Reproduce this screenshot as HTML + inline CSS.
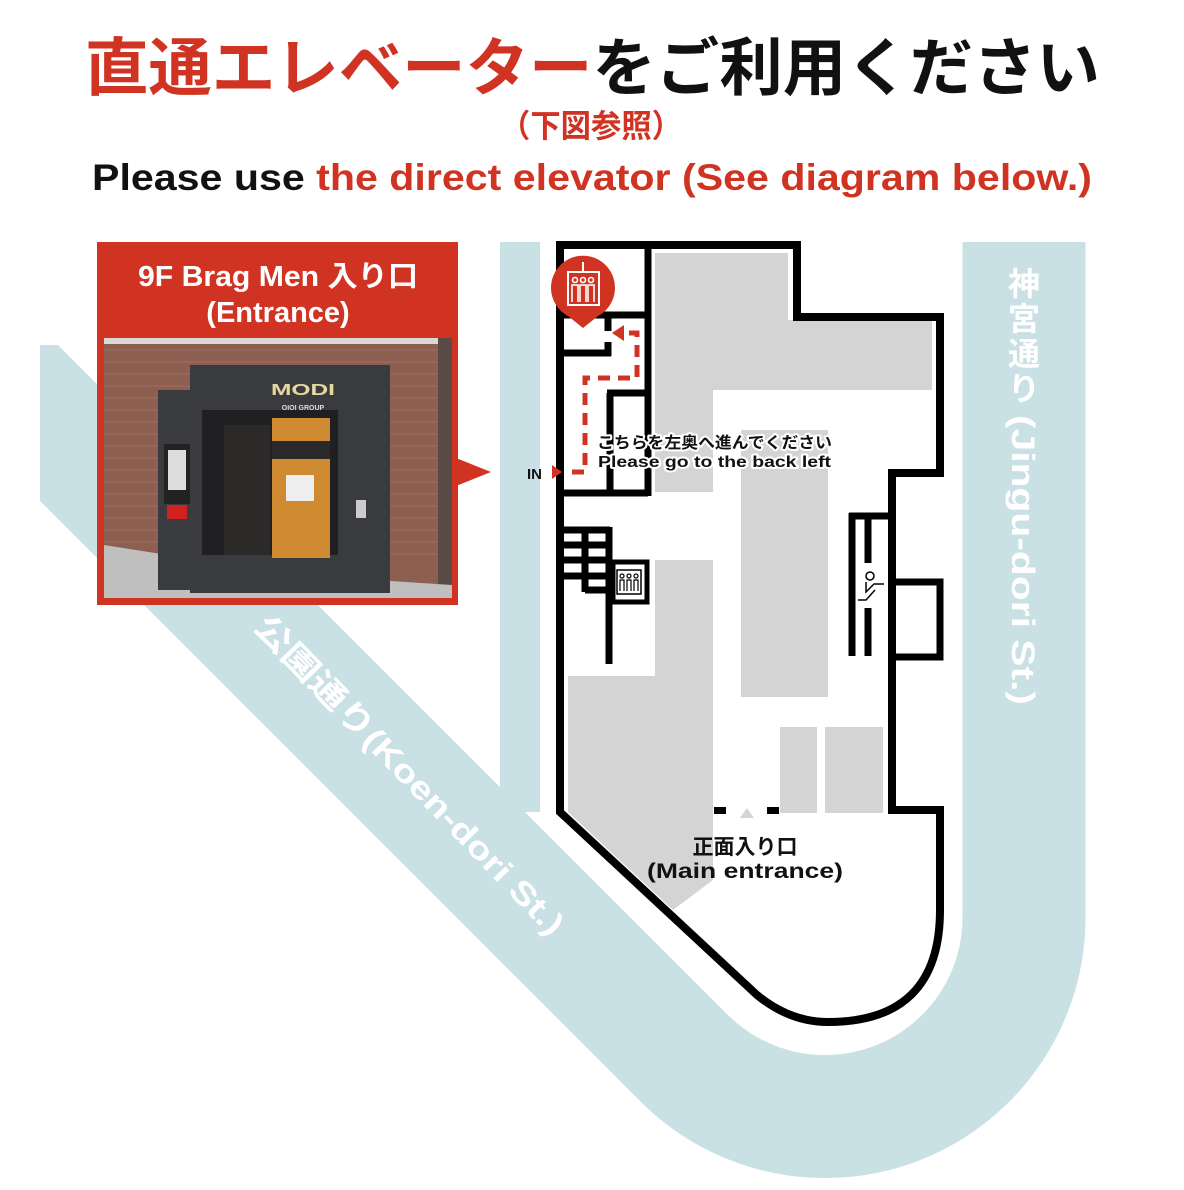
<!DOCTYPE html>
<html><head><meta charset="utf-8"><style>
html,body{margin:0;padding:0;background:#fff;}
svg{display:block;}
text{font-family:"Liberation Sans","Noto Sans CJK JP",sans-serif;font-weight:bold;}
</style></head><body>
<svg width="1184" height="1190" viewBox="0 0 1184 1190" xmlns="http://www.w3.org/2000/svg">
<rect width="1184" height="1190" fill="#fff"/>
<!-- header -->
<text x="85" y="90" font-size="63" textLength="1015" lengthAdjust="spacingAndGlyphs"><tspan fill="#d13322">直通エレベーター</tspan><tspan fill="#111">をご利用ください</tspan></text>
<text x="500" y="137" font-size="32" fill="#d13322" textLength="182" lengthAdjust="spacingAndGlyphs">（下図参照）</text>
<text x="92" y="190" font-size="37" textLength="1000" lengthAdjust="spacingAndGlyphs"><tspan fill="#111">Please use </tspan><tspan fill="#d13322">the direct elevator (See diagram below.)</tspan></text>

<!-- roads -->
<clipPath id="cl"><rect x="40" y="0" width="1184" height="1190"/></clipPath>
<g clip-path="url(#cl)">
<path d="M 0,374 L 685,1059 A 199 199 0 0 0 1024,916 L 1024,242" fill="none" stroke="#c9e1e4" stroke-width="123"/>
</g>
<rect x="40" y="300" width="40" height="45" fill="#fff"/>
<rect x="500" y="242" width="41" height="570" fill="#c9e1e4"/>

<!-- building white margin -->
<path d="M560,245 L797,245 L797,317 L940,317 L940,473 L892,473 L892,810 L940,810 L940,910 Q940,1022 828,1022 Q790,1022 757,995 L560,812 Z" fill="#fff" stroke="#fff" stroke-width="40" stroke-linejoin="round"/>

<!-- gray blocks -->
<g fill="#d4d4d4">
<path d="M655,253 L788,253 L788,320 L932,320 L932,390 L713,390 L713,492 L655,492 Z"/>
<rect x="741" y="430" width="87" height="267"/>
<path d="M655,560 L713,560 L713,880 L673,910 L568,812 L568,676 L655,676 Z"/>
<rect x="780" y="727" width="37" height="86"/>
<rect x="825" y="727" width="58" height="86"/>
<path d="M740,818 L747,808 L754,818 Z"/>
</g>

<!-- outline -->
<path d="M560,245 L797,245 L797,317 L940,317 L940,473 L892,473 L892,810 L940,810 L940,910 Q940,1022 828,1022 Q790,1022 757,995 L560,812 Z" fill="none" stroke="#000" stroke-width="8" stroke-linejoin="miter"/>
<rect x="714" y="807" width="12" height="7" fill="#000"/>
<rect x="767" y="807" width="12" height="7" fill="#000"/>

<!-- inner walls -->
<g stroke="#000" stroke-width="7" fill="none">
<line x1="648" y1="245" x2="648" y2="496"/>
<line x1="560" y1="315" x2="648" y2="315"/>
<line x1="560" y1="353" x2="611" y2="353"/>
<line x1="608" y1="318" x2="608" y2="331"/>
<line x1="608" y1="342" x2="608" y2="356"/>
<line x1="610" y1="393" x2="610" y2="493"/>
<line x1="607" y1="393" x2="648" y2="393"/>
<line x1="560" y1="493" x2="648" y2="493"/>
<line x1="560" y1="530" x2="610" y2="530"/>
<line x1="560" y1="545" x2="610" y2="545"/>
<line x1="560" y1="560" x2="610" y2="560"/>
<line x1="560" y1="576" x2="610" y2="576"/>
<line x1="585" y1="527" x2="585" y2="592"/>
<line x1="585" y1="590" x2="610" y2="590"/>
<line x1="609" y1="527" x2="609" y2="664"/>
<line x1="852" y1="513" x2="852" y2="656"/>
<line x1="849" y1="516" x2="892" y2="516"/>
<line x1="868" y1="519" x2="868" y2="563"/>
<line x1="868" y1="608" x2="868" y2="656"/>
<rect x="892" y="582" width="48" height="75"/>
</g>
<!-- small elevator -->
<rect x="613" y="562" width="34" height="40" fill="#fff" stroke="#000" stroke-width="5"/>
<rect x="617" y="570" width="24" height="24" fill="none" stroke="#000" stroke-width="1.5"/>
<g fill="none" stroke="#000" stroke-width="1.2">
<circle cx="622" cy="576" r="2"/><circle cx="629" cy="576" r="2"/><circle cx="636" cy="576" r="2"/>
<path d="M620,591 V580 H624 V591 M627,591 V580 H631 V591 M634,591 V580 H638 V591"/>
</g>
<!-- escalator person -->
<g stroke="#000" stroke-width="1.5" fill="none">
<circle cx="870" cy="576" r="4"/>
<path d="M866,582 L866,592 L874,584 L884,584 M858,600 L866,600 L875,590"/>
</g>

<!-- elevator marker -->
<path d="M551,288 A32 32 0 1 1 598,316 L583,328 L568,316 A32 32 0 0 1 551,288 Z" fill="#d13322"/>
<rect x="568" y="272" width="31" height="33" fill="none" stroke="#fff" stroke-width="2"/>
<line x1="583" y1="262" x2="583" y2="272" stroke="#fff" stroke-width="2"/>
<g fill="none" stroke="#fff" stroke-width="1.6">
<circle cx="575" cy="280" r="2.5"/><circle cx="583" cy="280" r="2.5"/><circle cx="591" cy="280" r="2.5"/>
<path d="M572,302 V285 H578 V302 M580,302 V285 H586 V302 M588,302 V285 H594 V302"/>
</g>

<!-- red dashed path -->
<path d="M572,472 L585,472 L585,378 L637,378 L637,333 L622,333" fill="none" stroke="#d13322" stroke-width="5" stroke-dasharray="12,8"/>
<path d="M612,333 L624,325 L624,341 Z" fill="#d13322"/>
<text x="527" y="479" font-size="15" fill="#111">IN</text>
<path d="M552,465 L562,472 L552,479 Z" fill="#d13322"/>

<g font-size="16" fill="#111" stroke="#fff" stroke-width="4" paint-order="stroke" stroke-linejoin="round">
<text x="597" y="448" textLength="235" lengthAdjust="spacingAndGlyphs">こちらを左奥へ進んでください</text>
<text x="598" y="467" textLength="233" lengthAdjust="spacingAndGlyphs">Please go to the back left</text>
</g>
<text x="745" y="854" font-size="21" fill="#111" text-anchor="middle">正面入り口</text>
<text x="745" y="878" font-size="21" fill="#111" text-anchor="middle" textLength="196" lengthAdjust="spacingAndGlyphs">(Main entrance)</text>

<!-- road labels -->
<g fill="#fff" font-size="32">
<text x="1024" y="295" text-anchor="middle">神</text>
<text x="1024" y="330" text-anchor="middle">宮</text>
<text x="1024" y="365" text-anchor="middle">通</text>
<text x="1024" y="400" text-anchor="middle">り</text>
<text transform="translate(1012,415) rotate(90)" textLength="290" lengthAdjust="spacingAndGlyphs">(Jingu-dori St.)</text>
<text transform="translate(252,628) rotate(46)" textLength="430" lengthAdjust="spacingAndGlyphs">公園通り(Koen-dori St.)</text>
</g>

<!-- photo box -->
<rect x="97" y="242" width="361" height="363" fill="#d13322"/>
<path d="M456,458 L491,472 L456,486 Z" fill="#d13322"/>
<text x="278" y="286" font-size="29" fill="#fff" text-anchor="middle" textLength="280" lengthAdjust="spacingAndGlyphs">9F Brag Men 入り口</text>
<text x="278" y="322" font-size="29" fill="#fff" text-anchor="middle">(Entrance)</text>
<rect x="104" y="338" width="348" height="260" fill="#8c5f50"/>
<g stroke="#a87a6a" stroke-width="1" opacity="0.6">
<line x1="104" y1="350" x2="452" y2="350"/><line x1="104" y1="362" x2="452" y2="362"/><line x1="104" y1="374" x2="452" y2="374"/><line x1="104" y1="386" x2="452" y2="386"/><line x1="104" y1="398" x2="452" y2="398"/><line x1="104" y1="410" x2="452" y2="410"/><line x1="104" y1="422" x2="452" y2="422"/><line x1="104" y1="434" x2="452" y2="434"/><line x1="104" y1="446" x2="452" y2="446"/><line x1="104" y1="458" x2="452" y2="458"/><line x1="104" y1="470" x2="452" y2="470"/><line x1="104" y1="482" x2="452" y2="482"/><line x1="104" y1="494" x2="452" y2="494"/><line x1="104" y1="506" x2="452" y2="506"/><line x1="104" y1="518" x2="452" y2="518"/><line x1="104" y1="530" x2="452" y2="530"/><line x1="104" y1="542" x2="452" y2="542"/><line x1="104" y1="554" x2="452" y2="554"/>
</g>
<rect x="104" y="338" width="348" height="6" fill="#d8d8d8"/>
<rect x="438" y="338" width="14" height="260" fill="#5a4a45"/>
<path d="M104,545 L200,560 L300,575 L452,585 L452,598 L104,598 Z" fill="#bfbfbf"/>
<rect x="158" y="390" width="140" height="200" fill="#3a3b3e"/>
<rect x="190" y="365" width="200" height="228" fill="#3a3b3e"/>
<rect x="202" y="410" width="136" height="145" fill="#202022"/>
<rect x="224" y="425" width="46" height="130" fill="#2c2a28"/>
<rect x="272" y="418" width="58" height="140" fill="#d08a32"/>
<rect x="272" y="441" width="58" height="18" fill="#2a2a2a"/>
<rect x="286" y="475" width="28" height="26" fill="#eee"/>
<rect x="164" y="444" width="26" height="60" fill="#222"/>
<rect x="168" y="450" width="18" height="40" fill="#ddd"/>
<rect x="167" y="505" width="20" height="14" fill="#d02020"/>
<rect x="356" y="500" width="10" height="18" fill="#ccc"/>
<text x="303" y="395" font-size="16" fill="#e8d8a0" text-anchor="middle" textLength="64" lengthAdjust="spacingAndGlyphs">MODI</text>
<text x="303" y="410" font-size="7" fill="#ddd" text-anchor="middle">OIOI GROUP</text>
</svg>
</body></html>
